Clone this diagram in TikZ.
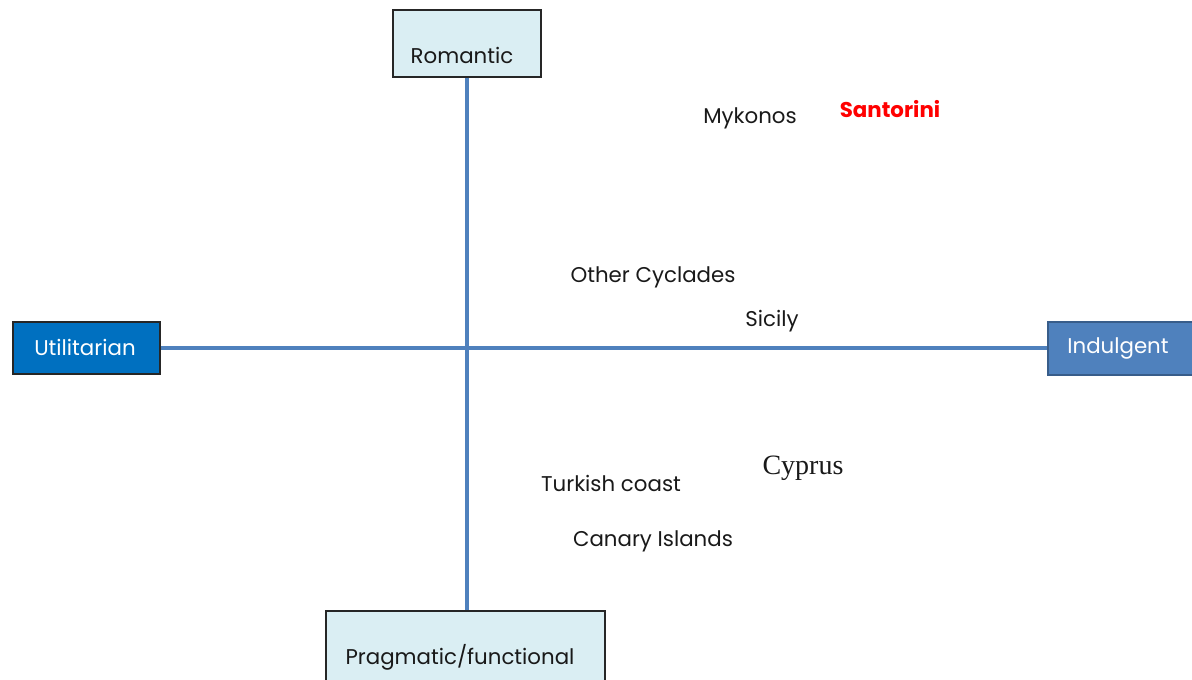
\documentclass[tikz,border=0pt]{standalone}
\usepackage{fontspec}
\setmainfont{Poppins}
\newfontfamily\serifface{Liberation Serif}
\definecolor{axisblue}{HTML}{4F81BD}
\definecolor{paleblue}{HTML}{DAEEF3}
\definecolor{strongblue}{HTML}{0070C0}
\definecolor{steelborder}{HTML}{385D8A}
\begin{document}
\begin{tikzpicture}[x=0.75pt,y=-0.75pt,
  box/.style={draw=black!85,line width=1.2pt,inner sep=0pt,anchor=north west},
  lightbox/.style={box,fill=paleblue},
  word/.style={font=\fontsize{16}{18}\selectfont,text=black!90,inner sep=0pt},
  boxword/.style={word},
  whiteword/.style={word,text=white},
  axis/.style={draw=axisblue,line width=3pt}]
\useasboundingbox (0,0) rectangle (1192,679);
\clip (0,0) rectangle (1192,679);

% pole boxes (sizes in pt: 0.75pt per unit)
\node[lightbox,minimum width=111pt,minimum height=50.25pt] (romantic) at (392,9) {};
\node[box,fill=strongblue,minimum width=110.25pt,minimum height=39pt] (utilitarian) at (12,321) {};
\node[box,draw=steelborder,fill=axisblue,minimum width=111pt,minimum height=39.75pt] (indulgent) at (1047,321) {};
\node[lightbox,minimum width=209.25pt,minimum height=67.5pt] (pragmatic) at (325,610) {};

% axes, kept exactly horizontal and vertical
\draw[axis] (utilitarian.east) -- (utilitarian.east -| indulgent.west);
\draw[axis] (romantic.south) -- (romantic.south |- pragmatic.north);

% pole labels
\node[boxword] (romantictext) at (462,55) {Romantic};
\node[whiteword] (utiltext) at (85,347) {Utilitarian};
\node[whiteword] (indtext) at (1118,348) {Indulgent};
\node[boxword] (pragtext) at (460,657) {Pragmatic/functional};

% destinations
\node[word] (mykonos) at (750,118) {Mykonos};
\node[word,text=red,font=\fontsize{16}{18}\selectfont\bfseries] (santorini) at (890,109) {Santorini};
\node[word] (cyclades) at (653,277) {Other Cyclades};
\node[word] (sicily) at (772,321) {Sicily};
\node[word] (turkish) at (611,483) {Turkish coast};
\node[word,font=\serifface\fontsize{21}{24}\selectfont] (cyprus) at (803,468) {Cyprus};
\node[word] (canary) at (653,541) {Canary Islands};
\end{tikzpicture}
\end{document}
